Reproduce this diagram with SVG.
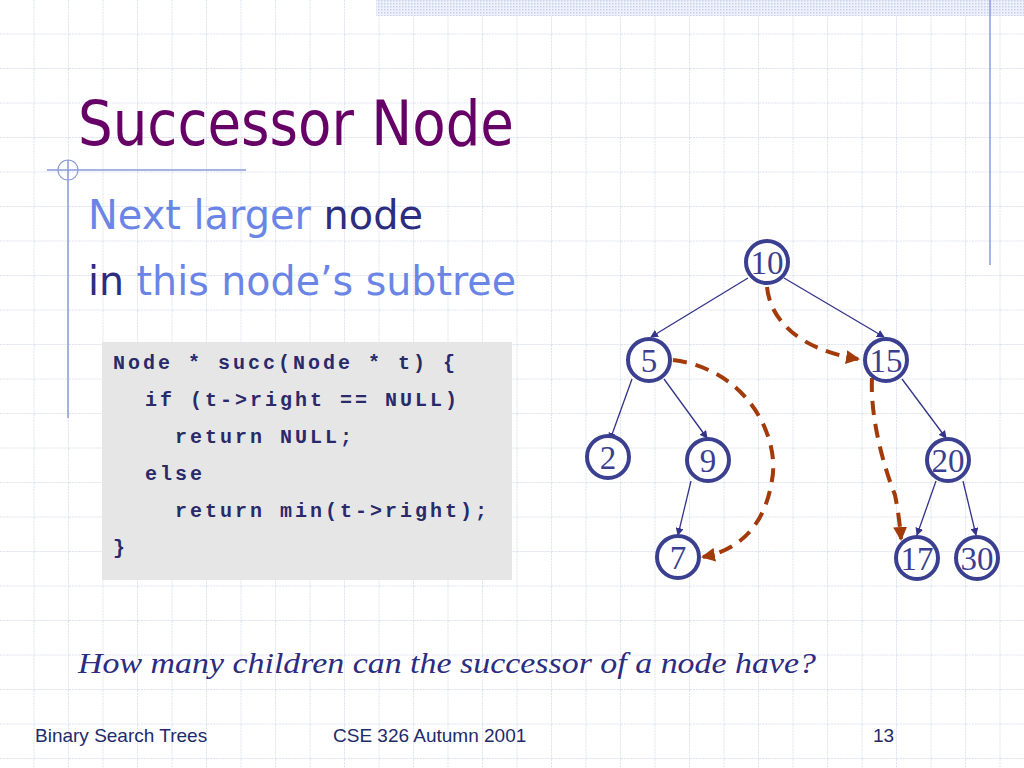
<svg xmlns="http://www.w3.org/2000/svg" width="1024" height="768" viewBox="0 0 1024 768">
<defs>
<pattern id="grid" width="34.5" height="34.5" patternUnits="userSpaceOnUse" x="0" y="0">
<path d="M34 0V34.5M0 34H34.5" fill="none" stroke="#dde3ee" stroke-width="1" stroke-dasharray="2 1"/>
</pattern>
<pattern id="dots" width="3" height="3" patternUnits="userSpaceOnUse"><rect width="3" height="3" fill="#eef1fa"/><rect width="1.5" height="1.5" fill="#c9d2ec"/></pattern>
<marker id="ab" markerWidth="8" markerHeight="8" refX="7" refY="4" orient="auto" markerUnits="userSpaceOnUse"><path d="M0,0L8,4L0,8z" fill="#33338a"/></marker>
<marker id="ar" markerWidth="14" markerHeight="14" refX="12" refY="7" orient="auto" markerUnits="userSpaceOnUse"><path d="M0,0L14,7L0,14z" fill="#a33a0a"/></marker>
<style>
.n circle{fill:#fff;stroke:#3b3f8f;stroke-width:4}
.n text{font-family:"Liberation Serif",serif;font-size:33px;fill:#3b3f8f;text-anchor:middle}
.e{stroke:#33338a;stroke-width:1.3;fill:none;marker-end:url(#ab)}
.d{stroke:#a33a0a;stroke-width:4;fill:none;stroke-dasharray:14 9;marker-end:url(#ar)}
.code{font-family:"Liberation Mono",monospace;font-size:20px;font-weight:bold;fill:#2a2a6a;letter-spacing:3px}
.ft{font-family:"Liberation Sans",sans-serif;font-size:19px;fill:#1e2a6a}
</style>
</defs>
<rect width="1024" height="768" fill="#fff"/>
<rect width="1024" height="768" fill="url(#grid)"/>
<rect x="376" y="0" width="648" height="16" fill="url(#dots)"/>
<line x1="990" y1="0" x2="990" y2="265" stroke="#8a9ad8" stroke-width="1.5"/>
<line x1="47" y1="170" x2="246" y2="170" stroke="#8a9ad8" stroke-width="1.5"/>
<line x1="68" y1="160" x2="68" y2="418" stroke="#8a9ad8" stroke-width="1.5"/>
<circle cx="68" cy="170" r="10" fill="none" stroke="#8a9ad8" stroke-width="1.2"/>
<text x="78" y="145" font-family="Verdana,'DejaVu Sans',sans-serif" font-size="62" fill="#660066" textLength="436" lengthAdjust="spacingAndGlyphs">Successor Node</text>
<text x="88" y="229" font-family="Verdana,'DejaVu Sans',sans-serif" font-size="40" fill="#6b85e6" textLength="335" lengthAdjust="spacingAndGlyphs">Next larger <tspan fill="#2c2c80">node</tspan></text>
<text x="88" y="295" font-family="Verdana,'DejaVu Sans',sans-serif" font-size="40" fill="#2c2c80" textLength="428" lengthAdjust="spacingAndGlyphs">in <tspan fill="#6b85e6">this node’s subtree</tspan></text>
<g id="code">
<rect x="102" y="342" width="410" height="238" fill="#e6e6e6"/>
<text class="code" x="113" y="369">Node * succ(Node * t) {</text>
<text class="code" x="145" y="406">if (t-&gt;right == NULL)</text>
<text class="code" x="175" y="443">return NULL;</text>
<text class="code" x="145" y="480">else</text>
<text class="code" x="175" y="517">return min(t-&gt;right);</text>
<text class="code" x="113" y="554">}</text>
</g>
<g id="connectors">
<line class="e" x1="748" y1="278" x2="651" y2="337"/>
<line class="e" x1="784" y1="278" x2="884" y2="337"/>
<line class="e" x1="632" y1="379" x2="610" y2="440"/>
<line class="e" x1="664" y1="379" x2="707" y2="438"/>
<line class="e" x1="902" y1="379" x2="946" y2="438"/>
<line class="e" x1="691" y1="481" x2="678" y2="535"/>
<line class="e" x1="936" y1="481" x2="917" y2="535"/>
<line class="e" x1="963" y1="481" x2="976" y2="535"/>
<path class="d" d="M767,287 C770,320 800,350 858,359"/>
<path class="d" d="M673,360 C750,370 780,440 772,480 C765,525 740,550 703,557"/>
<path class="d" d="M872,378 C870,420 885,470 895,495 C898,510 900,525 901,539"/>
</g>
<g id="n10" class="n"><circle cx="767" cy="262" r="21"/><text x="767" y="274">10</text></g>
<g id="n5" class="n"><circle cx="649" cy="360" r="21"/><text x="649" y="372">5</text></g>
<g id="n15" class="n"><circle cx="886" cy="360" r="21"/><text x="886" y="372">15</text></g>
<g id="n2" class="n"><circle cx="608" cy="457" r="21"/><text x="608" y="469">2</text></g>
<g id="n9" class="n"><circle cx="708" cy="460" r="21"/><text x="708" y="472">9</text></g>
<g id="n20" class="n"><circle cx="948" cy="460" r="21"/><text x="948" y="472">20</text></g>
<g id="n7" class="n"><circle cx="678" cy="557" r="21"/><text x="678" y="569">7</text></g>
<g id="n17" class="n"><circle cx="917" cy="558" r="21"/><text x="917" y="570">17</text></g>
<g id="n30" class="n"><circle cx="977" cy="558" r="21"/><text x="977" y="570">30</text></g>
<text x="78" y="673" font-family="'Liberation Serif',serif" font-style="italic" font-size="30" fill="#2c2c80" textLength="738" lengthAdjust="spacingAndGlyphs">How many children can the successor of a node have?</text>
<text class="ft" x="35" y="742">Binary Search Trees</text>
<text class="ft" x="333" y="742">CSE 326 Autumn 2001</text>
<text class="ft" x="873" y="742">13</text>
</svg>
